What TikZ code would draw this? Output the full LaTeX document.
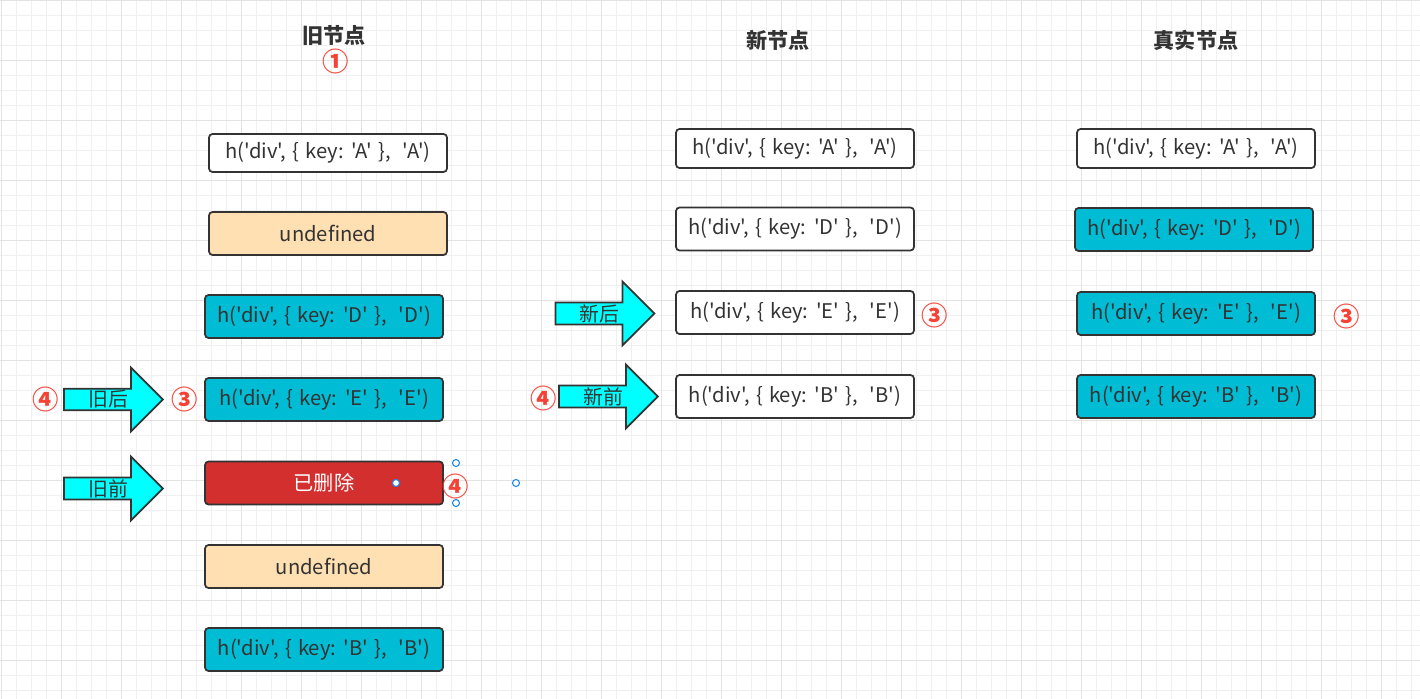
\documentclass[tikz,border=0pt]{standalone}
\usepackage{fontspec}
\setmainfont{Noto Sans CJK SC}[Ligatures=TeXOff]
\usetikzlibrary{shapes.arrows}

\definecolor{ink}{HTML}{333333}
\definecolor{hitblue}{HTML}{00BCD4}
\definecolor{peach}{HTML}{FFE0B2}
\definecolor{gonered}{HTML}{D32F2F}
\definecolor{ptrcyan}{HTML}{00FFFF}
\definecolor{tagred}{HTML}{F44336}
\definecolor{handleblue}{HTML}{1E88E5}
\definecolor{gridminor}{HTML}{F0F0F0}
\definecolor{gridmajor}{HTML}{E3E3E3}

\newcommand\widespace{\spaceskip=0.3em\relax}

\begin{document}
\begin{tikzpicture}[x=0.02cm,y=-0.02cm,
    font=\fontsize{11.3}{13}\selectfont,
    vnode/.style={draw=ink,line width=1pt,rounded corners=2pt,text=ink,
      minimum width=4.76cm,minimum height=0.86cm,inner sep=0pt,
      font=\fontsize{11.5}{13}\selectfont\widespace},
    plainbox/.style={vnode,fill=white},
    hitbox/.style={vnode,fill=hitblue},
    nullbox/.style={vnode,fill=peach},
    gonebox/.style={vnode,fill=gonered,text=white},
    ptr/.style={single arrow,draw=ink,line width=1pt,fill=ptrcyan,text=ink,
      minimum height=1.98cm,single arrow head extend=0.42cm,
      single arrow tip angle=90,inner sep=0.5pt},
    tag/.style={text=tagred,font=\bfseries\fontsize{15}{16}\selectfont},
    title/.style={text=ink,font=\bfseries\fontsize{12}{14}\selectfont},
    handle/.style={circle,draw=handleblue,fill=white,line width=0.6pt,
      minimum size=4pt,inner sep=0pt}]

  \useasboundingbox (0,0) rectangle (1420,699);

  % grid
  \foreach \x in {1,16,...,1420} \draw[gridminor,line width=0.5pt] (\x,0) -- (\x,699);
  \foreach \y in {0,15,...,699} \draw[gridminor,line width=0.5pt] (0,\y) -- (1420,\y);
  \foreach \x in {1,61,...,1420} \draw[gridmajor,line width=0.5pt] (\x,0) -- (\x,699);
  \foreach \y in {0,60,...,699} \draw[gridmajor,line width=0.5pt] (0,\y) -- (1420,\y);

  % titles
  \node (oldtitle)  [title] at (334,36) {旧节点};
  \node (newtitle)  [title] at (778,40) {新节点};
  \node (realtitle) [title] at (1196,40) {真实节点};
  \node (one) [tag] at (336,61) {①};

  % old vnodes
  \node (oldA)    [plainbox,minimum height=0.76cm] at (328,153)   {h('div', \{ key: 'A' \},\ \ 'A')};
  \node (oldU1)   [nullbox] at (328,233.5) {undefined};
  \node (oldD)    [hitbox]  at (324,316.5) {h('div', \{ key: 'D' \},\ \ 'D')};
  \node (oldE)    [hitbox]  at (324,399.5) {h('div', \{ key: 'E' \},\ \ 'E')};
  \node (oldgone) [gonebox] at (324,483)   {已删除};
  \node (oldU2)   [nullbox] at (324,566.5) {undefined};
  \node (oldB)    [hitbox]  at (324,649.5) {h('div', \{ key: 'B' \},\ \ 'B')};

  % new vnodes
  \node (newA) [plainbox,minimum height=0.78cm] at (795,148.5) {h('div', \{ key: 'A' \},\ \ 'A')};
  \node (newD) [plainbox] at (795,229)   {h('div', \{ key: 'D' \},\ \ 'D')};
  \node (newE) [plainbox] at (795,312.5) {h('div', \{ key: 'E' \},\ \ 'E')};
  \node (newB) [plainbox] at (795,396.5) {h('div', \{ key: 'B' \},\ \ 'B')};

  % real nodes
  \node (realA) [plainbox,minimum height=0.78cm] at (1196,148.5) {h('div', \{ key: 'A' \},\ \ 'A')};
  \node (realD) [hitbox] at (1194,229.5) {h('div', \{ key: 'D' \},\ \ 'D')};
  \node (realE) [hitbox] at (1196,313.5) {h('div', \{ key: 'E' \},\ \ 'E')};
  \node (realB) [hitbox] at (1196,396.5) {h('div', \{ key: 'B' \},\ \ 'B')};

  % pointers
  \node (oldend)   [ptr] at (108,399.5) {旧后};
  \node (oldstart) [ptr] at (108,488.5) {旧前};
  \node (newend)   [ptr] at (599.5,313.5) {新后};
  \node (newstart) [ptr] at (603,396.5) {新前};

  % step marks
  \node (t4a) [tag] at (46,399)   {④};
  \node (t3a) [tag] at (185,399)  {③};
  \node (t4b) [tag] at (456,486)  {④};
  \node (t4c) [tag] at (544,398)  {④};
  \node (t3b) [tag] at (935,315)  {③};
  \node (t3c) [tag] at (1347,316) {③};

  % selection handles
  \node (hn) [handle] at (456,463) {};
  \node (hs) [handle] at (456,503) {};
  \node (hw) [handle] at (396,483) {};
  \node (he) [handle] at (516,483) {};

\end{tikzpicture}
\end{document}
